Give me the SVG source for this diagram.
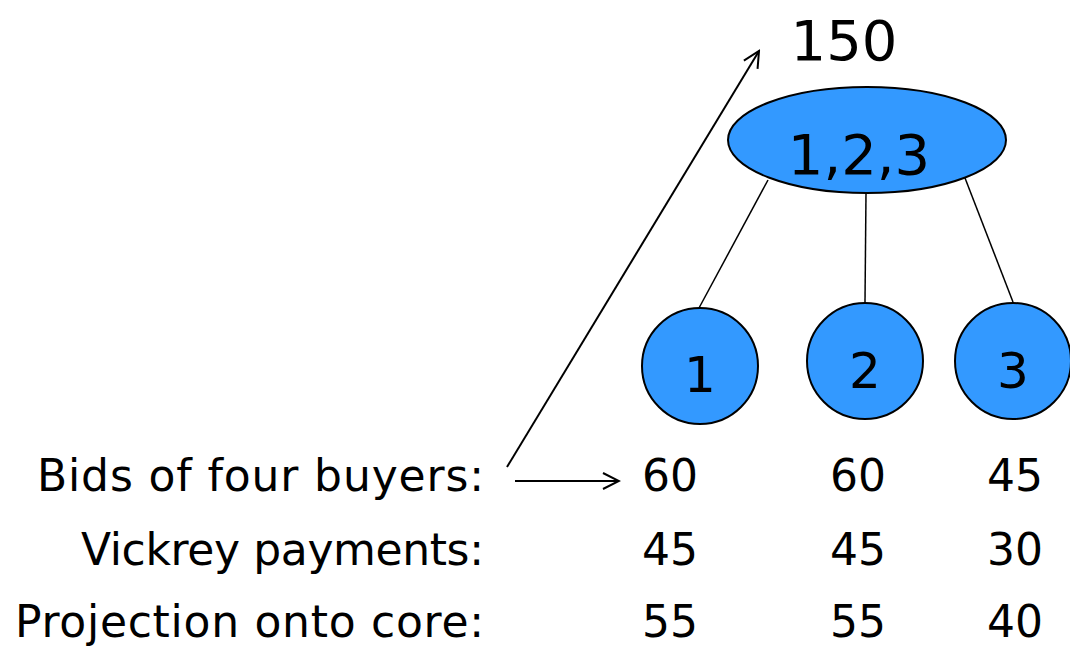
<svg xmlns="http://www.w3.org/2000/svg" width="1070" height="653" viewBox="0 0 1070 653">
  <style>
    .node { fill: #3399ff; stroke: #000; stroke-width: 2; }
    .edge { stroke: #000; stroke-width: 1.5; fill: none; }
    .arrow { stroke: #000; stroke-width: 2; fill: none; }
    text { font-family: "DejaVu Sans", "Liberation Sans", sans-serif; fill: #000; }
    .big { font-size: 56px; text-anchor: middle; }
    .digit { font-size: 50px; text-anchor: middle; }
    .row { font-size: 44px; }
    .label { text-anchor: end; }
    .num { text-anchor: middle; }
  </style>
  <defs>
    <marker id="open-arrow" viewBox="0 0 20 20" refX="18" refY="10" markerWidth="20" markerHeight="20" markerUnits="userSpaceOnUse" orient="auto">
      <path d="M2,2 L18,10 L2,18" fill="none" stroke="#000" stroke-width="2"/>
    </marker>
  </defs>

  <!-- tree edges and arrows -->
  <g id="connectors">
    <line class="edge" x1="768" y1="180" x2="699" y2="308"/>
    <line class="edge" x1="866" y1="193" x2="865" y2="302"/>
    <line class="edge" x1="965" y1="178" x2="1013" y2="302"/>
    <line class="arrow" x1="507" y1="467" x2="759" y2="51" marker-end="url(#open-arrow)"/>
    <line class="arrow" x1="515" y1="481" x2="619" y2="481" marker-end="url(#open-arrow)"/>
  </g>

  <text class="big" x="844" y="60">150</text>

  <g id="node-123">
    <ellipse class="node" cx="867" cy="140" rx="139" ry="53"/>
    <text class="big" x="859" y="174">1,2,3</text>
  </g>
  <g id="node-1">
    <circle class="node" cx="700" cy="366" r="58"/>
    <text class="digit" x="700" y="392">1</text>
  </g>
  <g id="node-2">
    <circle class="node" cx="865" cy="361" r="58"/>
    <text class="digit" x="865" y="388">2</text>
  </g>
  <g id="node-3">
    <circle class="node" cx="1013" cy="361" r="58"/>
    <text class="digit" x="1013" y="388">3</text>
  </g>

  <g id="table">
    <text class="row label" x="484" y="491" textLength="447" lengthAdjust="spacing">Bids of four buyers:</text>
    <text class="row num" x="670" y="491">60</text>
    <text class="row num" x="858" y="491">60</text>
    <text class="row num" x="1015" y="491">45</text>
    <text class="row label" x="484" y="565" textLength="403" lengthAdjust="spacing">Vickrey payments:</text>
    <text class="row num" x="670" y="565">45</text>
    <text class="row num" x="858" y="565">45</text>
    <text class="row num" x="1015" y="565">30</text>
    <text class="row label" x="484" y="637" textLength="469" lengthAdjust="spacing">Projection onto core:</text>
    <text class="row num" x="670" y="637">55</text>
    <text class="row num" x="858" y="637">55</text>
    <text class="row num" x="1015" y="637">40</text>
  </g>
</svg>
